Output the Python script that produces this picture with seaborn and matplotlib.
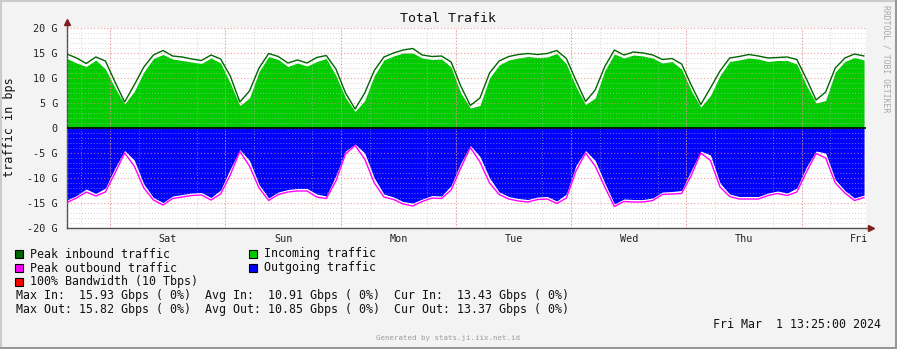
import numpy as np
import pandas as pd
import matplotlib
matplotlib.use("Agg")
import matplotlib.pyplot as plt
from matplotlib.patches import Rectangle
from matplotlib.lines import Line2D
from matplotlib.ticker import MultipleLocator, FixedLocator, FuncFormatter
import seaborn as sns

# ---------------- data (Gbps) ----------------
hours = np.arange(-9, 158, 2)  # hours relative to Sat 00:00, 2-hour samples

incoming = [13.9, 13.0, 12.3, 13.6, 11.8, 8.0, 4.8, 7.3, 11.2, 13.9,
            14.7, 13.8, 13.5, 13.2, 12.9, 14.0, 13.0, 9.0, 4.5, 6.0,
            11.3, 14.3, 13.7, 12.3, 13.0, 12.4, 13.3, 13.9, 10.5, 6.1,
            3.3, 5.5, 10.5, 13.6, 14.4, 15.0, 15.0, 14.0, 13.7, 13.8,
            12.2, 7.0, 4.0, 4.5, 10.0, 12.6, 13.6, 14.0, 14.3, 14.1,
            14.2, 14.9, 12.8, 8.3, 4.7, 6.0, 11.5, 14.8, 14.0, 14.6,
            14.4, 14.0, 13.0, 13.3, 11.8, 7.5, 4.2, 6.5, 10.5, 13.3,
            13.6, 14.0, 13.8, 13.3, 13.5, 13.5, 12.8, 8.5, 5.0, 5.5,
            11.2, 13.3, 14.1, 13.6]

peak_in = [14.8, 14.0, 12.9, 14.2, 13.4, 9.2, 5.2, 8.6, 12.2, 14.6,
           15.5, 14.4, 14.2, 13.8, 13.5, 14.6, 13.8, 10.4, 5.2, 7.4,
           12.0, 14.9, 14.3, 13.0, 13.6, 13.0, 14.1, 14.5, 11.8, 7.0,
           3.8, 7.0, 11.5, 14.2, 15.0, 15.6, 15.9, 14.6, 14.3, 14.4,
           13.2, 8.4, 4.5, 6.0, 11.0, 13.4, 14.3, 14.7, 14.9, 14.7,
           14.9, 15.5, 13.9, 9.5, 5.3, 7.6, 12.3, 15.6, 14.6, 15.2,
           15.0, 14.6, 13.7, 13.9, 12.8, 8.6, 4.7, 8.0, 11.4, 14.0,
           14.3, 14.7, 14.4, 14.0, 14.1, 14.2, 13.7, 9.8, 5.6, 7.2,
           12.0, 14.0, 14.8, 14.4]

outgoing = [-14.4, -13.5, -12.2, -13.1, -12.0, -8.0, -4.5, -6.4, -11.2, -13.9,
            -14.9, -13.6, -13.3, -13.0, -12.9, -13.9, -12.4, -8.2, -4.3, -6.5,
            -11.3, -14.0, -12.8, -12.3, -12.1, -12.1, -13.2, -13.6, -9.5, -4.6,
            -3.2, -5.0, -10.0, -13.2, -13.8, -14.7, -15.0, -14.2, -13.5, -13.6,
            -11.5, -7.0, -3.5, -5.7, -10.0, -12.8, -13.7, -14.1, -14.3, -13.8,
            -13.7, -14.6, -13.2, -7.5, -4.5, -6.5, -11.0, -15.2, -14.2, -14.3,
            -14.3, -14.0, -12.8, -12.7, -12.5, -8.5, -4.6, -5.4, -11.0, -13.2,
            -13.7, -13.7, -13.7, -13.0, -12.6, -13.0, -12.0, -7.8, -4.6, -5.0,
            -10.3, -12.5, -14.0, -13.4]

peak_out = [-14.9, -14.0, -12.8, -13.6, -12.8, -9.0, -5.0, -7.6, -12.0, -14.4,
            -15.4, -14.1, -13.8, -13.5, -13.4, -14.4, -13.2, -9.4, -4.7, -7.6,
            -12.0, -14.5, -13.3, -12.8, -12.6, -12.6, -13.8, -14.1, -10.6, -5.2,
            -3.5, -6.2, -11.0, -13.8, -14.3, -15.2, -15.6, -14.7, -14.0, -14.1,
            -12.4, -8.0, -3.9, -6.8, -11.0, -13.3, -14.2, -14.6, -14.8, -14.3,
            -14.2, -15.1, -14.0, -8.6, -5.0, -7.6, -11.8, -15.7, -14.7, -14.8,
            -14.8, -14.5, -13.3, -13.2, -13.1, -9.5, -5.0, -6.5, -11.8, -13.7,
            -14.2, -14.2, -14.2, -13.5, -13.1, -13.5, -12.8, -8.8, -5.1, -6.0,
            -11.0, -13.0, -14.5, -13.9]

day_labels = ["Sat", "Sun", "Mon", "Tue", "Wed", "Thu", "Fri"]
day_label_pos = [12, 36, 60, 84, 108, 132, 156]
midnights = [0, 24, 48, 72, 96, 120, 144]
y_ticks = [20, 15, 10, 5, 0, -5, -10, -15, -20]

legend_items = [("Peak inbound traffic", "#006600"), ("Incoming traffic", "#00CC00"),
                ("Peak outbound traffic", "#FF00FF"), ("Outgoing traffic", "#0000FF"),
                ("100% Bandwidth (10 Tbps)", "#FF0000")]
stats_in = "Max In:  15.93 Gbps ( 0%)  Avg In:  10.91 Gbps ( 0%)  Cur In:  13.43 Gbps ( 0%)"
stats_out = "Max Out: 15.82 Gbps ( 0%)  Avg Out: 10.85 Gbps ( 0%)  Cur Out: 13.37 Gbps ( 0%)"
date_text = "Fri Mar  1 13:25:00 2024"

df = pd.DataFrame({"h": hours, "in": incoming, "pin": peak_in,
                   "out": outgoing, "pout": peak_out})

# ---------------- figure ----------------
sns.set_theme(style="white")
plt.rcParams["font.family"] = ["DejaVu Sans Mono"]
W, H = 897, 349
fig = plt.figure(figsize=(W / 100, H / 100), dpi=100, facecolor="#F3F3F3")

def fx(x):
    return x / W

def fy(y):
    return 1 - y / H

ax = fig.add_axes([fx(67), fy(228), fx(799), 200 / H])
ax.set_facecolor("white")

ax.fill_between(df["h"], 0, df["in"], color="#00CC00", lw=0, zorder=1)
ax.fill_between(df["h"], 0, df["out"], color="#0000FF", lw=0, zorder=1)
sns.lineplot(data=df, x="h", y="pin", ax=ax, color="#006600", lw=1, zorder=3)
sns.lineplot(data=df, x="h", y="pout", ax=ax, color="#FF00FF", lw=1, zorder=3)
ax.axhline(0, color="black", lw=1.2, zorder=4)

ax.set_xlim(-9, 157.4)
ax.set_ylim(-20, 20)

# grid
ax.yaxis.set_major_locator(FixedLocator(y_ticks))
ax.yaxis.set_minor_locator(MultipleLocator(1))
ax.xaxis.set_major_locator(FixedLocator(day_label_pos))
ax.xaxis.set_minor_locator(MultipleLocator(6))
ax.set_xticklabels(day_labels)
ax.yaxis.set_major_formatter(FuncFormatter(lambda v, p: "0" if v == 0 else f"{int(v)} G"))
ax.set_axisbelow(False)
ax.grid(False)
ax.yaxis.grid(True, which="minor", color="#BBBBBB", ls=(0, (1, 2)), lw=0.7, alpha=0.6)
ax.yaxis.grid(True, which="major", color="#F08080", ls=(0, (1, 2)), lw=0.8, alpha=0.8)
ax.xaxis.grid(True, which="minor", color="#BBBBBB", ls=(0, (1, 2)), lw=0.7, alpha=0.6)
for m in midnights:
    ax.axvline(m, color="#F08080", ls=(0, (1, 2)), lw=0.8, alpha=0.8, zorder=2.6)

for side in ["top", "right"]:
    ax.spines[side].set_visible(False)
for side in ["left", "bottom"]:
    ax.spines[side].set_color("#505050")
    ax.spines[side].set_linewidth(1)

ax.tick_params(axis="y", which="major", length=3, direction="inout", color="#505050",
               labelsize=7.3, pad=5, labelcolor="#222222")
ax.tick_params(axis="y", which="minor", length=2, direction="inout", color="#505050")
ax.tick_params(axis="x", which="major", length=0, labelsize=7.3, pad=4, labelcolor="#222222")
ax.tick_params(axis="x", which="minor", length=2, direction="inout", color="#505050")
ax.set_xlabel("")
ax.set_ylabel("")

# axis arrows
ax.add_line(Line2D([0, 0], [1, 1.03], transform=ax.transAxes, color="#505050", lw=1, clip_on=False))
ax.add_line(Line2D([1, 1.005], [0, 0], transform=ax.transAxes, color="#505050", lw=1, clip_on=False))
ax.plot([0], [1.03], marker="^", ms=4, color="#7F1F1F", transform=ax.transAxes, clip_on=False)
ax.plot([1.006], [0], marker=">", ms=4, color="#7F1F1F", transform=ax.transAxes, clip_on=False)

# texts
fig.text(fx(448), fy(19), "Total Trafik", ha="center", va="center", fontsize=9.5, color="#111111")
fig.text(fx(10), fy(127), "traffic in bps", ha="center", va="center", rotation=90,
         fontsize=8.5, color="#111111")
fig.text(fx(886), fy(59), "RRDTOOL / TOBI OETIKER", ha="center", va="center", rotation=-90,
         fontsize=5.9, color="#A8A8A8")
fig.text(fx(448), fy(338), "Generated by stats.ji.iix.net.id", ha="center", va="center",
         fontsize=5.3, color="#9A9A9A")

# legend
pos = [(15, 254), (249, 254), (15, 268), (249, 268), (15, 282)]
for (label, col), (x0, yc) in zip(legend_items, pos):
    fig.add_artist(Rectangle((fx(x0), fy(yc + 4)), 8 / W, 8 / H, transform=fig.transFigure,
                             facecolor=col, edgecolor="black", lw=0.8))
    fig.text(fx(x0 + 15), fy(yc), label, ha="left", va="center", fontsize=8.4, color="#111111")
fig.text(fx(16), fy(296), stats_in, ha="left", va="center", fontsize=8.4, color="#111111")
fig.text(fx(16), fy(310), stats_out, ha="left", va="center", fontsize=8.4, color="#111111")
fig.text(fx(881), fy(324), date_text, ha="right", va="center", fontsize=8.4, color="#111111")

# 3D border
fig.add_artist(Line2D([0, 1], [fy(1), fy(1)], transform=fig.transFigure, color="#CBCBCB", lw=1.5))
fig.add_artist(Line2D([fx(1), fx(1)], [0, 1], transform=fig.transFigure, color="#CBCBCB", lw=1.5))
fig.add_artist(Line2D([0, 1], [fy(347.5), fy(347.5)], transform=fig.transFigure, color="#999999", lw=2.2))
fig.add_artist(Line2D([fx(895.5), fx(895.5)], [0, 1], transform=fig.transFigure, color="#999999", lw=2.2))

fig.savefig("out.png", dpi=100, facecolor=fig.get_facecolor())
